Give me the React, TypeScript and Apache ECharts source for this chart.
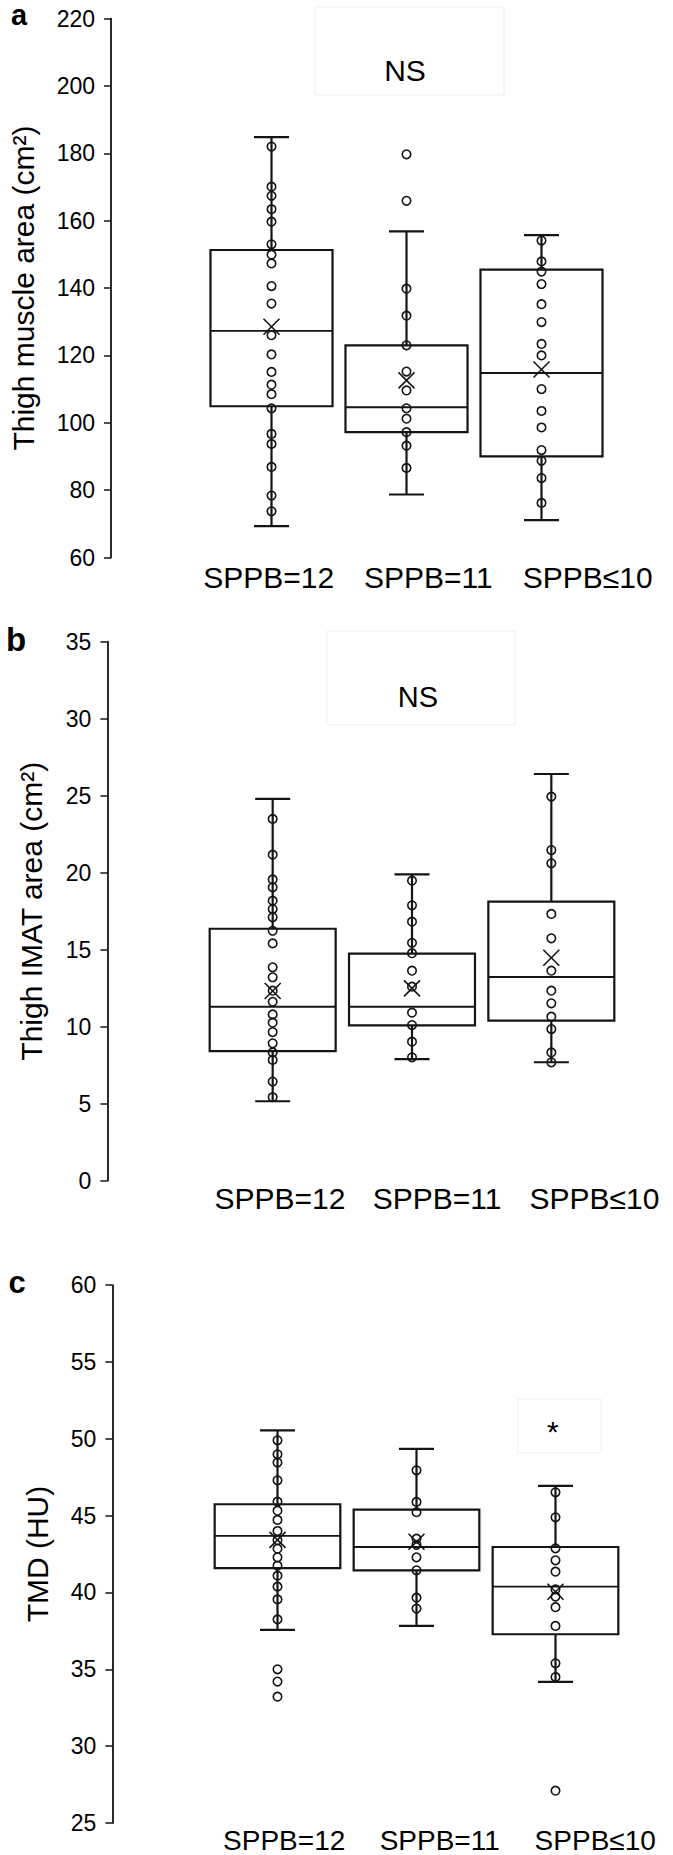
import React, { useEffect, useRef } from "react";
import * as echarts from "echarts";

const FONT = "'Liberation Sans', Arial, Helvetica, sans-serif";

const categories = ["SPPB=12", "SPPB=11", "SPPB≤10"];

// Panel a: thigh muscle area (cm2)  [min, Q1, median, Q3, max]
const muscleBox = [
  [69.3, 104.9, 127.3, 151.3, 184.8],
  [78.7, 97.2, 104.6, 123.0, 156.8],
  [71.1, 90.0, 114.8, 145.5, 155.7],
];
const muscleMean = [128.5, 112.6, 115.8];
const musclePts12 = [182.0, 170.1, 167.4, 163.4, 159.7, 153.0, 149.9, 147.3, 140.6, 135.4, 126.0, 120.3, 115.1, 111.3, 108.5, 104.3, 96.7, 93.7, 86.9, 78.4, 73.7];
const musclePts11 = [179.7, 165.9, 139.8, 131.8, 123.0, 115.2, 109.6, 104.3, 101.2, 97.2, 93.2, 86.6];
const musclePts10 = [154.1, 147.9, 144.9, 141.2, 135.2, 129.9, 123.4, 120.0, 110.0, 103.5, 98.6, 91.9, 88.7, 83.6, 76.2];

// Panel b: thigh IMAT area (cm2)
const imatBox = [
  [5.16, 8.42, 11.3, 16.36, 24.8],
  [7.9, 10.09, 11.3, 14.74, 19.89],
  [7.69, 10.39, 13.23, 18.12, 26.41],
];
const imatMean = [12.32, 12.49, 14.48];
const imatPts12 = [23.49, 21.17, 19.56, 19.05, 18.18, 17.64, 17.1, 16.23, 15.41, 13.86, 13.21, 12.34, 11.62, 10.8, 10.26, 9.65, 8.92, 8.33, 7.84, 6.44, 5.42];
const imatPts11 = [19.48, 17.88, 16.82, 15.45, 14.77, 13.64, 12.6, 10.91, 10.11, 9.03, 8.01];
const imatPts10 = [24.94, 21.47, 20.61, 17.32, 15.74, 13.64, 12.34, 11.52, 10.65, 9.85, 8.33, 7.69];

// Panel c: TMD (HU)
const tmdBox = [
  [37.56, 41.59, 43.68, 45.74, 50.55],
  [37.82, 41.44, 42.96, 45.39, 49.34],
  [34.18, 37.28, 40.38, 42.96, 46.93],
];
const tmdMean = [43.42, 43.3, 40.05];
const tmdPts12 = [49.9, 48.99, 48.45, 47.3, 45.91, 45.32, 44.72, 44.0, 43.4, 42.85, 42.29, 41.74, 41.09, 40.38, 39.55, 38.25, 35.0, 34.2, 33.22];
const tmdPts11 = [47.95, 45.89, 45.22, 43.5, 43.1, 42.29, 41.44, 39.66, 38.95];
const tmdPts10 = [46.52, 44.89, 42.87, 42.09, 41.35, 40.2, 39.73, 39.04, 37.82, 35.39, 34.5, 27.1];

const panels = [
  {
    letter: "a", title: "Thigh muscle area (cm²)", min: 60, max: 220, interval: 20,
    box: muscleBox, mean: muscleMean, pts: [musclePts12, musclePts11, musclePts10],
    main: { left: 201, top: 18.6, width: 408, height: 538.9 }, offset: 93, nameGap: 73,
    lab: { left: 189, top: 560, width: 478.5 }, labSize: 30,
    letterPos: [19, 15], letterSize: 29,
    note: { text: "NS", rect: [315, 7, 189, 88], pos: [405, 70], size: 30 },
  },
  {
    letter: "b", title: "Thigh IMAT area (cm²)", min: 0, max: 35, interval: 5,
    box: imatBox, mean: imatMean, pts: [imatPts12, imatPts11, imatPts10],
    main: { left: 203, top: 641.7, width: 418, height: 539 }, offset: 95.6, nameGap: 61,
    lab: { left: 201.3, top: 1181.6, width: 478.5 }, labSize: 30,
    letterPos: [16, 639], letterSize: 33,
    note: { text: "NS", rect: [327, 631, 188, 94], pos: [418, 697], size: 29 },
  },
  {
    letter: "c", title: "TMD (HU)", min: 25, max: 60, interval: 5,
    box: tmdBox, mean: tmdMean, pts: [tmdPts12, tmdPts11, tmdPts10],
    main: { left: 208, top: 1285.1, width: 417, height: 537.9 }, offset: 95.6, nameGap: 60,
    lab: { left: 206.4, top: 1824, width: 475.5 }, labSize: 28,
    letterPos: [17, 1282], letterSize: 31,
    note: { text: "*", rect: [517.7, 1399, 83.3, 54], pos: [552.8, 1431], size: 30 },
  },
];

const INK = "#141414";

function renderBox(params: any, api: any) {
  const c = api.value(0);
  const band = api.size([1, 0])[0];
  const hw = band * 0.452;
  const cap = 17.5;
  const [cx, yMin] = api.coord([c, api.value(1)]);
  const yQ1 = api.coord([c, api.value(2)])[1];
  const yMed = api.coord([c, api.value(3)])[1];
  const yQ3 = api.coord([c, api.value(4)])[1];
  const yMax = api.coord([c, api.value(5)])[1];
  const yMean = api.coord([c, api.value(6)])[1];
  const st = { stroke: INK, lineWidth: 2.2, fill: "none" };
  const m = 8;
  return {
    type: "group",
    children: [
      { type: "line", shape: { x1: cx, y1: yQ3, x2: cx, y2: yMax }, style: st },
      { type: "line", shape: { x1: cx, y1: yQ1, x2: cx, y2: yMin }, style: st },
      { type: "line", shape: { x1: cx - cap, y1: yMax, x2: cx + cap, y2: yMax }, style: st },
      { type: "line", shape: { x1: cx - cap, y1: yMin, x2: cx + cap, y2: yMin }, style: st },
      { type: "rect", shape: { x: cx - hw, y: yQ3, width: 2 * hw, height: yQ1 - yQ3 }, style: st },
      { type: "line", shape: { x1: cx - hw, y1: yMed, x2: cx + hw, y2: yMed }, style: { ...st, lineWidth: 1.9 } },
      { type: "line", shape: { x1: cx - m, y1: yMean - m, x2: cx + m, y2: yMean + m }, style: { ...st, lineWidth: 1.6 } },
      { type: "line", shape: { x1: cx + m, y1: yMean - m, x2: cx - m, y2: yMean + m }, style: { ...st, lineWidth: 1.6 } },
    ],
  };
}

function buildOption() {
  const grid: any[] = [];
  const xAxis: any[] = [];
  const yAxis: any[] = [];
  const series: any[] = [];
  const graphic: any[] = [];

  panels.forEach((p, i) => {
    const gMain = i * 2;
    const gLab = i * 2 + 1;
    grid.push({ ...p.main, containLabel: false });
    grid.push({ left: p.lab.left, top: p.lab.top, width: p.lab.width, height: 1, containLabel: false });

    xAxis.push({
      type: "category", gridIndex: gMain, data: categories, boundaryGap: true,
      axisLine: { show: false }, axisTick: { show: false }, axisLabel: { show: false }, splitLine: { show: false },
    });
    xAxis.push({
      type: "category", gridIndex: gLab, data: categories, boundaryGap: true,
      axisLine: { show: false }, axisTick: { show: false }, splitLine: { show: false },
      axisLabel: { show: true, margin: 1, fontSize: p.labSize, color: "#000", fontFamily: FONT, interval: 0 },
    });

    yAxis.push({
      type: "value", gridIndex: gMain, min: p.min, max: p.max, interval: p.interval, offset: p.offset,
      name: p.title, nameLocation: "middle", nameGap: p.nameGap,
      nameTextStyle: { fontSize: 30, color: "#000", fontFamily: FONT },
      axisLine: { show: true, lineStyle: { color: INK, width: 1.8 } },
      axisTick: { show: true, length: 7, lineStyle: { color: INK, width: 1.5 } },
      axisLabel: { show: true, margin: 16, fontSize: 23, color: "#000", fontFamily: FONT },
      splitLine: { show: false },
    });
    yAxis.push({ type: "value", gridIndex: gLab, show: false, min: 0, max: 1 });

    const boxData = p.box.map((b, ci) => [ci, ...b, p.mean[ci]]);
    series.push({
      type: "custom", xAxisIndex: gMain, yAxisIndex: gMain, renderItem: renderBox,
      data: boxData, encode: { x: 0, y: [1, 2, 3, 4, 5, 6] }, z: 2, silent: true,
    });
    const ptsData: number[][] = [];
    p.pts.forEach((arr, ci) => arr.forEach((v) => ptsData.push([ci, v])));
    series.push({
      type: "scatter", xAxisIndex: gMain, yAxisIndex: gMain, data: ptsData,
      symbol: "circle", symbolSize: 8.5, z: 3, silent: true,
      itemStyle: { color: "rgba(255,255,255,0)", borderColor: INK, borderWidth: 1.6, opacity: 1 },
    });

    graphic.push({
      type: "text", x: p.letterPos[0], y: p.letterPos[1], silent: true,
      style: { text: p.letter, fontSize: p.letterSize, fontWeight: "bold", fontFamily: FONT, fill: "#000", align: "center", verticalAlign: "middle" },
    });
    graphic.push({
      type: "rect", silent: true,
      shape: { x: p.note.rect[0], y: p.note.rect[1], width: p.note.rect[2], height: p.note.rect[3] },
      style: { fill: "none", stroke: "#efefef", lineWidth: 1 },
    });
    graphic.push({
      type: "text", x: p.note.pos[0], y: p.note.pos[1], silent: true,
      style: { text: p.note.text, fontSize: p.note.size, fontFamily: FONT, fill: "#000", align: "center", verticalAlign: "middle" },
    });
  });

  return { animation: false, backgroundColor: "#fff", grid, xAxis, yAxis, series, graphic };
}

export default function App() {
  const ref = useRef<HTMLDivElement>(null);
  useEffect(() => {
    document.body.style.margin = "0";
    if (!ref.current) return;
    const chart = echarts.init(ref.current, null, { renderer: "svg" });
    chart.setOption(buildOption() as any);
    return () => chart.dispose();
  }, []);
  return <div ref={ref} style={{ width: 673, height: 1855, background: "#fff" }} />;
}
